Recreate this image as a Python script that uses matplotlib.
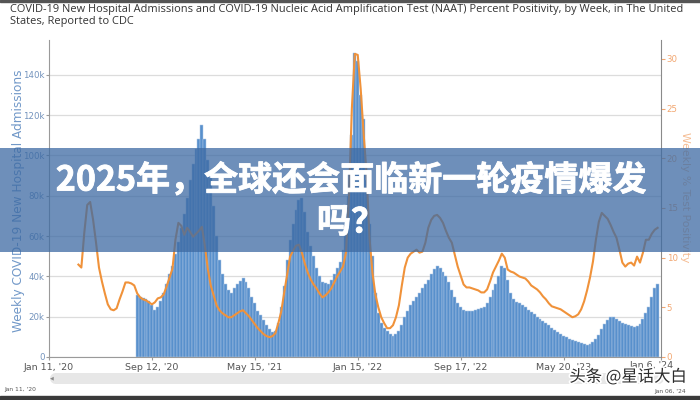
import matplotlib
matplotlib.use("Agg")
import matplotlib.pyplot as plt
import matplotlib.patheffects as pe
from matplotlib.patches import Rectangle
from matplotlib.lines import Line2D
import pandas as pd

title = ("COVID-19 New Hospital Admissions and COVID-19 Nucleic Acid Amplification Test (NAAT) "
         "Percent Positivity, by Week, in The United\nStates, Reported to CDC")
banner = "2025年，全球还会面临新一轮疫情爆发\n吗？"
watermark = "头条 @星话大白"
left_label = "Weekly COVID-19 New Hospital Admissions"
right_label = "Weekly % Test Positivity"

# weekly new hospital admissions (thousands), first week Aug 8 2020
admissions_start = "2020-08-08"
admissions_k = [31, 30, 29.5, 29, 28, 26, 23.5, 25, 28, 32,
                36, 41, 45, 51, 57, 64, 71, 79, 88, 96,
                103, 108, 115, 108, 98, 89, 75, 60, 48, 41,
                36, 33, 32, 34, 36, 37.5, 39, 37, 34, 30,
                27, 23, 21, 18.5, 16, 14, 12.5, 13, 17, 25,
                35, 48, 58, 66, 73, 78, 79, 72, 62, 55,
                50, 44, 40, 37, 36.5, 36, 38, 41, 44, 47,
                53, 62, 80, 110, 151, 147, 130, 118, 88, 66,
                50, 32, 22, 17, 14.5, 13, 11.5, 10.5, 11.5, 13,
                16, 20, 23, 26, 28, 30, 32, 34, 36, 38,
                41, 43.5, 45, 44, 42, 40, 37, 33, 30, 27,
                25, 23.5, 23, 23, 23, 23.5, 24, 24.5, 25, 27,
                30, 33, 36, 40, 45, 44, 38, 32, 29, 27.5,
                27, 26, 25, 23.5, 22.5, 21.5, 20, 19, 18, 17,
                16, 14.5, 13.5, 12.5, 11.5, 10.5, 10, 9, 8.5, 8,
                7.5, 7, 6.5, 6, 6.5, 7.5, 9, 11, 14, 16.5,
                18.5, 20, 20, 19, 18, 17, 16.5, 16, 15.5, 15,
                15.5, 16.5, 19, 22, 25, 30, 34, 36]

# weekly NAAT percent positivity, first week Mar 21 2020
positivity_start = "2020-03-21"
positivity = [9.3, 9.0, 12.5, 15.3, 15.6, 13.8, 11.5, 9.0, 7.6, 6.4,
              5.3, 4.8, 4.7, 4.9, 5.8, 6.6, 7.5, 7.5, 7.4, 7.2,
              6.4, 6.0, 5.8, 5.7, 5.5, 5.3, 5.5, 5.9, 6.0, 6.3,
              7.1, 8.0, 8.9, 11.8, 13.5, 13.2, 12.3, 13.0, 12.6, 12.1,
              12.4, 12.7, 13.1, 11.2, 8.9, 7.2, 6.2, 5.2, 4.7, 4.4,
              4.2, 4.0, 4.0, 4.2, 4.4, 4.6, 4.7, 4.4, 4.1, 3.7,
              3.3, 2.9, 2.6, 2.3, 2.1, 2.0, 2.1, 2.4, 3.4, 4.6,
              6.5, 8.3, 10.1, 10.7, 11.2, 11.3, 10.5, 9.4, 8.5, 7.8,
              7.3, 6.9, 6.4, 6.0, 6.2, 6.5, 6.9, 7.5, 8.1, 8.6,
              9.1, 10.5, 16, 25, 30.5, 30.4, 27, 22.5, 18.5, 12,
              8.5, 6.3, 5.0, 4.0, 3.4, 2.9, 2.9, 3.2, 4.0, 5.2,
              7.2, 9.0, 10.0, 10.4, 10.6, 10.8, 10.5, 10.6, 11.5, 13.0,
              13.8, 14.2, 14.3, 14.0, 13.5, 12.7, 12.0, 11.5, 10.3, 9.1,
              8.2, 7.3, 7.0, 7.0, 6.9, 6.8, 6.7, 6.5, 6.5, 6.8,
              7.6, 8.5, 9.1, 9.7, 10.4, 10.0, 8.8, 8.6, 8.5, 8.3,
              8.1, 8.0, 7.9, 7.6, 7.2, 7.0, 6.8, 6.5, 6.1, 5.8,
              5.4, 5.1, 5.0, 4.9, 4.8, 4.6, 4.4, 4.2, 4.0, 4.1,
              4.3, 4.8, 5.6, 6.7, 8.0, 9.6, 11.8, 13.6, 14.5, 14.2,
              13.9, 13.3, 12.6, 12.0, 10.8, 9.5, 9.1, 9.4, 9.5, 9.2,
              10.1, 9.5, 10.5, 11.8, 11.8, 12.4, 12.8, 13.0]

tick_dates = ["2020-01-11", "2020-09-12", "2021-05-15", "2022-01-15",
              "2022-09-17", "2023-05-20", "2024-01-06"]
tick_labels = ["Jan 11, '20", "Sep 12, '20", "May 15, '21", "Jan 15, '22",
               "Sep 17, '22", "May 20, '23", "Jan 6, '24"]
left_ticks = [0, 20, 40, 60, 80, 100, 120, 140]
left_tick_labels = ["0", "20k", "40k", "60k", "80k", "100k", "120k", "140k"]
right_ticks = [0, 5, 10, 15, 20, 25, 30]

adm_dates = pd.date_range(admissions_start, periods=len(admissions_k), freq="7D")
pos_dates = pd.date_range(positivity_start, periods=len(positivity), freq="7D")

cjk = ["Noto Sans CJK SC", "DejaVu Sans"]

fig = plt.figure(figsize=(7, 4), dpi=100)
ax = fig.add_axes([49/700, 43/400, 612/700, 317/400])
ax2 = ax.twinx()

ax.bar(adm_dates, admissions_k, width=7, color="#5890cc",
       edgecolor="#b0c9e6", linewidth=0.35)
ax2.plot(pos_dates, positivity, color="#f0923a", lw=1.5)

ax.set_xlim(pd.Timestamp("2020-01-11"), pd.Timestamp("2024-01-07"))
ax.set_ylim(0, 157.3)
ax2.set_ylim(0, 31.9)

# last date label sits a bit left of its tick, like the original
ax.set_xticks(pd.to_datetime(tick_dates))
ax.set_xticklabels(tick_labels[:-1] + [""])
fig.text(652/700, 1 - 365/400, tick_labels[-1], ha="center", va="center",
         fontsize=6.8, color="#555555")
ax.set_yticks(left_ticks)
ax.set_yticklabels(left_tick_labels)
ax2.set_yticks(right_ticks)

ax.yaxis.grid(True, color="#dcdcdc", lw=0.9)
ax.set_axisbelow(True)

for s in ["top", "right"]:
    ax.spines[s].set_visible(False)
for s in ["top", "left", "bottom"]:
    ax2.spines[s].set_visible(False)
ax.spines["left"].set_color("#9a9a9a")
ax.spines["bottom"].set_color("#9a9a9a")
ax2.spines["right"].set_color("#8a8a8a")

ax.tick_params(axis="y", labelsize=6.2, labelcolor="#7393bd", color="#9a9a9a",
               length=2, pad=1)
ax.tick_params(axis="x", labelsize=6.8, labelcolor="#555555", color="#9a9a9a",
               length=2, pad=2)
ax2.tick_params(axis="y", labelsize=6.2, labelcolor="#f2a670", color="#f2a670",
                length=3, pad=1)

fig.text(19/700, 1 - 201/400, left_label, rotation=90, ha="center", va="center",
         fontsize=8.7, color="#7198c8")
fig.text(685/700, 1 - 197/400, right_label, rotation=270, ha="center", va="center",
         fontsize=7.8, color="#f5bd94")

fig.text(10/700, 1 - 4/400, title, ha="left", va="top", fontsize=7.9,
         color="#333333", family="Open Sans", linespacing=1.1)

# range slider under the chart
fig.add_artist(Line2D([55/700, 658/700], [1 - 377.5/400] * 2, lw=7.9,
                      color="#e7e7e7", solid_capstyle="round"))
fig.text(52/700, 1 - 378/400, "◀", fontsize=3.5, color="#888888",
         ha="center", va="center")
fig.text(20/700, 1 - 390/400, "Jan 11, '20", fontsize=4.3, color="#555555",
         ha="center", va="center")
fig.text(670/700, 1 - 392/400, "Jan 06, '24", fontsize=4.3, color="#555555",
         ha="center", va="center")

# frame strips of the screenshot
fig.add_artist(Rectangle((0, 1 - 1.5/400), 1, 1.5/400, color="#555555",
                         transform=fig.transFigure))
fig.add_artist(Rectangle((0, 0), 1, 4/400, color="#3a3a3a",
                         transform=fig.transFigure))

# banner overlay
fig.add_artist(Rectangle((0, 1 - 252/400), 1, 104/400, facecolor="#3d6aa3",
                         alpha=0.75, edgecolor="none", transform=fig.transFigure,
                         zorder=5))
fig.text(351/700, 1 - 201/400, banner, ha="center", va="center",
         multialignment="center", fontsize=24.5, fontweight="bold",
         color="white", family=cjk, linespacing=1.25, zorder=6,
         path_effects=[pe.withStroke(linewidth=0.6, foreground="white")])

fig.text(628/700, 1 - 377/400, watermark, ha="center", va="center",
         fontsize=11.8, color="#2b2b2b", family=cjk, zorder=7,
         path_effects=[pe.withStroke(linewidth=2.5, foreground="white")])

fig.savefig("out.png", dpi=100)
